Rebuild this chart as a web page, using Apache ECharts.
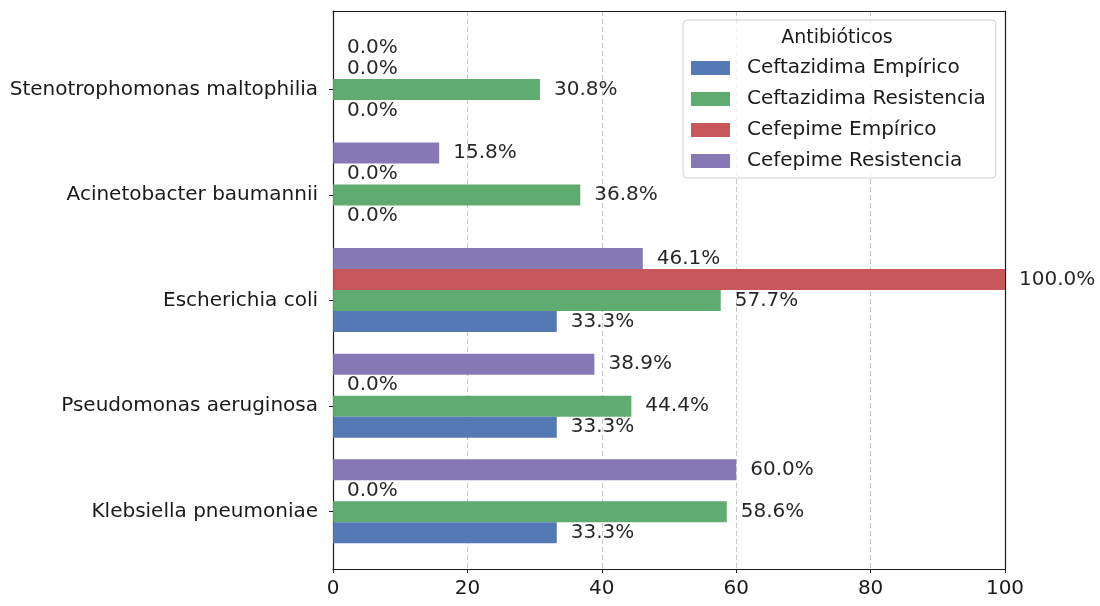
<!DOCTYPE html>
<html>
<head>
<meta charset="utf-8">
<script src="https://cdn.jsdelivr.net/npm/echarts@6/dist/echarts.min.js"></script>
<style>
  html, body { margin: 0; padding: 0; background: #fff; }
  #chart { width: 1100px; height: 606px; }
</style>
</head>
<body>
<div id="chart"></div>
<script>
// bottom to top, like the reference
const categories = ['Klebsiella pneumoniae', 'Pseudomonas aeruginosa', 'Escherichia coli', 'Acinetobacter baumannii', 'Stenotrophomonas maltophilia'];
const ceftazidimaEmpirico = [33.3, 33.3, 33.3, 0.0, 0.0];
const ceftazidimaResistencia = [58.6, 44.4, 57.7, 36.8, 30.8];
const cefepimeEmpirico = [0.0, 0.0, 100.0, 0.0, 0.0];
const cefepimeResistencia = [60.0, 38.9, 46.1, 15.8, 0.0];
const xTicks = [0, 20, 40, 60, 80, 100];

const FONT = 'DejaVu Sans';
const FS = 20;
const INK = '#1a1a1a';
const chart = echarts.init(document.getElementById('chart'));

function barSeries(name, data, color) {
    return {
        name: name,
        type: 'bar',
        xAxisIndex: 2,
        yAxisIndex: 2,
        data: data,
        barWidth: 21,
        barGap: 0,
        itemStyle: { color: color, opacity: 0.95 },
        label: {
            show: true,
            position: 'right',
            distance: 14,
            color: INK,
            fontFamily: FONT,
            fontSize: FS,
            formatter: (p) => p.value.toFixed(1) + '%'
        }
    };
}

const frameLine = { show: true, onZero: false, lineStyle: { color: INK, width: 1.2 } };

chart.setOption({
    animation: false,
    grid: [
        // outer frame
        { left: 333, top: 11, width: 672, height: 558 },
        // bar area
        { left: 333, top: 36.7, width: 672, height: 527.8 }
    ],
    xAxis: [{
        gridIndex: 0,
        type: 'value',
        position: 'bottom',
        min: xTicks[0],
        max: xTicks[xTicks.length - 1],
        interval: 20,
        axisLine: frameLine,
        axisTick: { show: true, length: 4, lineStyle: { color: INK } },
        axisLabel: { color: INK, fontFamily: FONT, fontSize: FS, margin: 10 },
        splitLine: { show: true, showMinLine: false, showMaxLine: false, lineStyle: { color: '#c8c8c8', type: [5, 3], width: 1 } }
    }, {
        gridIndex: 0,
        type: 'value',
        position: 'top',
        min: 0,
        max: 100,
        axisLine: frameLine,
        axisTick: { show: false },
        axisLabel: { show: false },
        splitLine: { show: false }
    }, {
        gridIndex: 1,
        type: 'value',
        min: 0,
        max: 100,
        show: false
    }],
    yAxis: [{
        gridIndex: 0,
        type: 'value',
        position: 'left',
        axisLine: frameLine,
        axisTick: { show: false },
        axisLabel: { show: false },
        splitLine: { show: false }
    }, {
        gridIndex: 0,
        type: 'value',
        position: 'right',
        axisLine: frameLine,
        axisTick: { show: false },
        axisLabel: { show: false },
        splitLine: { show: false }
    }, {
        gridIndex: 1,
        type: 'category',
        data: categories,
        axisLine: { show: false },
        axisTick: { show: true, alignWithLabel: true, length: 4, lineStyle: { color: INK } },
        axisLabel: { color: INK, fontFamily: FONT, fontSize: FS, margin: 15 },
        splitLine: { show: false }
    }],
    legend: {
        data: ['Ceftazidima Empírico', 'Ceftazidima Resistencia', 'Cefepime Empírico', 'Cefepime Resistencia'],
        orient: 'vertical',
        left: 683,
        top: 20,
        padding: [38, 10, 7, 8],
        itemWidth: 39,
        itemHeight: 14,
        itemGap: 11,
        icon: 'rect',
        backgroundColor: 'rgba(255,255,255,0.8)',
        borderColor: '#d0d0d0',
        borderWidth: 1,
        borderRadius: 4,
        textStyle: { color: INK, fontFamily: FONT, fontSize: FS, lineHeight: 20, padding: [0, 0, 0, 12] }
    },
    graphic: [{
        type: 'text',
        x: 837,
        y: 38,
        z: 100,
        style: { text: 'Antibióticos', fill: INK, font: '19px "DejaVu Sans"', textAlign: 'center', textVerticalAlign: 'middle' }
    }],
    // first series is drawn on top of each group; empty slot at the bottom keeps the green bar on the tick
    series: [
        barSeries('Cefepime Resistencia', cefepimeResistencia, '#8172b2'),
        barSeries('Cefepime Empírico', cefepimeEmpirico, '#c44e52'),
        barSeries('Ceftazidima Resistencia', ceftazidimaResistencia, '#55a868'),
        barSeries('Ceftazidima Empírico', ceftazidimaEmpirico, '#4c72b0'),
        { name: '', type: 'bar', xAxisIndex: 2, yAxisIndex: 2, data: [], barWidth: 21, barGap: 0 }
    ]
});
</script>
</body>
</html>
